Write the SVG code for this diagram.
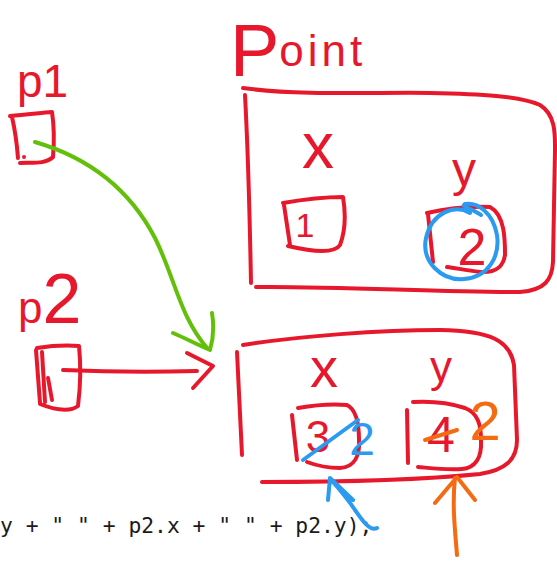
<svg xmlns="http://www.w3.org/2000/svg" width="557" height="561" viewBox="0 0 557 561">
<style>
.r{fill:none;stroke:#e8182c;stroke-width:4;stroke-linecap:round;stroke-linejoin:round}
.g{fill:none;stroke:#62c00a;stroke-width:4;stroke-linecap:round;stroke-linejoin:round}
.b{fill:none;stroke:#2a9bf0;stroke-width:4;stroke-linecap:round;stroke-linejoin:round}
.o{fill:none;stroke:#f56b12;stroke-width:4;stroke-linecap:round;stroke-linejoin:round}
.t{font-family:"Liberation Sans","DejaVu Sans",sans-serif;fill:#e8182c}
.tb{font-family:"Liberation Sans","DejaVu Sans",sans-serif;fill:#2a9bf0}
.to{font-family:"Liberation Sans","DejaVu Sans",sans-serif;fill:#f56b12}
.code{font-family:"DejaVu Sans Mono","Liberation Mono",monospace;font-size:21.33px;fill:#1a1a1a}
</style>
<rect width="557" height="561" fill="#ffffff"/>
<text class="code" x="0" y="533" xml:space="preserve">y + " " + p2.x + " " + p2.y);</text>

<g id="title">
<text class="t" x="230" y="76"><tspan font-size="74">P</tspan><tspan font-size="44" y="66" letter-spacing="4">oint</tspan></text>
</g>

<g id="p1">
<text class="t" x="17" y="97" font-size="46">p1</text>
<path class="r" d="M10,116 C25,115 40,113 52,112 C54,125 54,145 53,157 C45,165 30,162 20,163 M12,117 C15,130 17,145 18,158"/>
<circle cx="24" cy="157" r="2" fill="#e8182c"/>
</g>

<g id="p2">
<text class="t" x="18" y="323"><tspan font-size="44">p</tspan><tspan font-size="70">2</tspan></text>
<path class="r" d="M37,348 C50,346 65,345 79,346 C81,365 80,390 78,406 C70,412 55,410 40,404 M36,350 L40,403 M42,352 L45,402 M48,378 L52,400"/>
</g>

<g id="point1">
<path class="r" d="M243,88 C300,96 380,92 430,93 C480,94 520,96 540,105 C556,115 555,135 555,150 L553,262 C552,280 545,290 520,292 C440,292 330,286 256,287 M245,95 C248,150 250,230 251,283"/>
<text class="t" x="302" y="168" font-size="64">x</text>
<text class="t" x="452" y="186" font-size="48">y</text>
<path class="r" d="M283,203 C300,200 325,197 343,197 C346,215 345,232 340,245 C335,253 318,253 288,246 M284,205 L290,245"/>
<text class="t" x="305" y="237" font-size="34" text-anchor="middle">1</text>
<path class="r" d="M427,213 C445,209 470,206 490,207 C505,215 505,240 505,255 C503,268 495,273 480,272 C465,270 455,268 447,267 M428,214 L433,262"/>
<text class="t" x="472" y="265" font-size="52" text-anchor="middle">2</text>
<path class="b" d="M470,213 C455,204 432,212 426,238 C421,262 442,281 464,279 C489,277 500,256 497,235 C493,213 478,202 465,204 C460,207 472,208 481,215"/>
</g>

<g id="point2">
<path class="r" d="M243,345 C300,336 380,330 440,330 C490,331 510,340 514,365 L517,440 C517,460 505,470 480,474 C420,480 330,482 262,482 M237,352 L242,455"/>
<text class="t" x="310" y="387" font-size="56">x</text>
<text class="t" x="430" y="382" font-size="44">y</text>
<path class="r" d="M298,408 C315,405 335,404 347,405 C357,410 359,425 359,440 C360,455 355,467 340,468 C325,468 315,465 307,462 M292,415 L297,460"/>
<text class="t" x="318" y="452" font-size="44" text-anchor="middle">3</text>
<path class="b" d="M303,460 L358,420"/>
<text class="tb" x="362" y="455" font-size="46" text-anchor="middle">2</text>
<path class="r" d="M413,402 C430,401 450,403 465,408 C478,413 481,425 481,440 C482,458 475,468 462,469 C445,470 430,468 418,467 M407,410 L408,463"/>
<text class="t" x="441" y="452" font-size="50" text-anchor="middle">4</text>
<path class="o" d="M425,440 L457,430"/>
<text class="to" x="485" y="440" font-size="56" text-anchor="middle">2</text>
</g>

<g id="connectors">
<path class="g" d="M35,142 C90,158 130,190 155,238 C175,278 180,318 208,349 M173,333 C185,338 198,345 210,350 M212,313 C214,325 213,340 210,350"/>
<path class="r" d="M63,370 C110,372 160,372 197,371 M187,353 L213,366 L193,388"/>
<path class="b" d="M377,528 C370,532 362,520 355,510 C345,495 335,485 330,478 M328,500 L330,478 L353,500"/>
<path class="o" d="M457,555 C455,530 452,505 455,478 M435,503 L457,477 L475,500"/>
</g>
</svg>
